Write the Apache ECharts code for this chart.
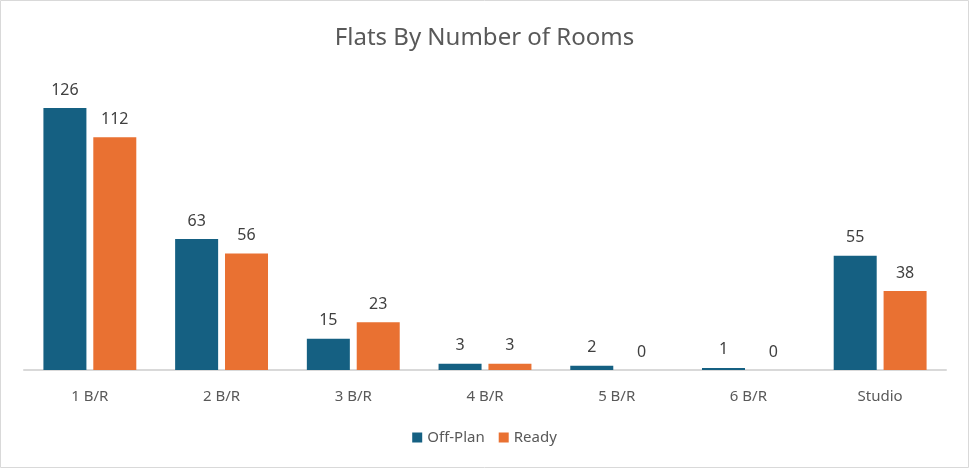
<!DOCTYPE html>
<html>
<head>
<meta charset="utf-8">
<script src="https://cdn.jsdelivr.net/npm/echarts@6/dist/echarts.min.js"></script>
<style>
html,body{margin:0;padding:0;background:#fff;}
#c{width:969px;height:468px;}
</style>
</head>
<body>
<div id="c"></div>
<script>
const categories = ["1 B/R", "2 B/R", "3 B/R", "4 B/R", "5 B/R", "6 B/R", "Studio"];
const offPlan = [126, 63, 15, 3, 2, 1, 55];
const ready = [112, 56, 23, 3, 0, 0, 38];
const seriesNames = ["Off-Plan", "Ready"];

const FONT = "Noto Sans";
const chart = echarts.init(document.getElementById('c'));
const labelStyle = {show: true, position: 'top', distance: 10, color: '#404040', fontSize: 16, fontFamily: FONT};
chart.setOption({
  animation: false,
  textStyle: {fontFamily: FONT},
  title: {
    text: 'Flats By Number of Rooms',
    left: 'center', top: 21,
    textStyle: {fontSize: 24, fontWeight: 'normal', color: '#595959', fontFamily: FONT}
  },
  graphic: [{
    type: 'rect', shape: {x: 0.5, y: 0.5, width: 968, height: 467},
    style: {fill: 'none', stroke: '#d9d9d9', lineWidth: 1}, silent: true
  }],
  legend: {
    bottom: 18, left: 'center', itemWidth: 10, itemHeight: 10, itemGap: 14,
    icon: 'rect',
    textStyle: {fontSize: 15, color: '#595959', fontFamily: FONT}
  },
  grid: {left: 24, right: 23, top: 79, bottom: 98, containLabel: false},
  xAxis: {
    type: 'category', data: categories,
    axisLine: {lineStyle: {color: '#d9d9d9', width: 2}},
    axisTick: {show: false},
    axisLabel: {color: '#595959', fontSize: 15, margin: 19, fontFamily: FONT}
  },
  yAxis: {type: 'value', min: 0, max: 140, show: false, splitLine: {show: false}},
  series: [
    {name: seriesNames[0], type: 'bar', data: offPlan, barWidth: 43, barGap: '16%',
     itemStyle: {color: '#156082'}, label: labelStyle},
    {name: seriesNames[1], type: 'bar', data: ready, barWidth: 43,
     itemStyle: {color: '#E97132'}, label: labelStyle}
  ]
});
</script>
</body>
</html>
